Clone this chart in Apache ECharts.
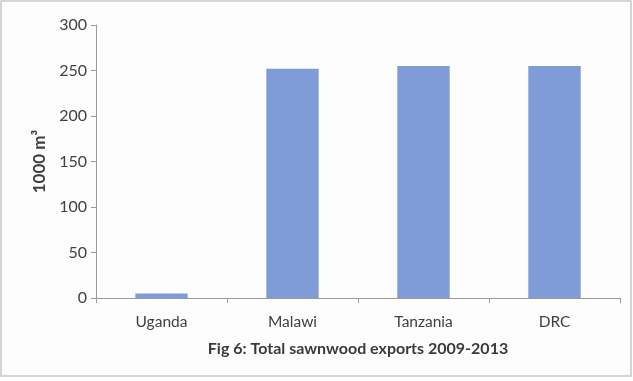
<!DOCTYPE html>
<html>
<head>
<meta charset="utf-8">
<script src="https://cdn.jsdelivr.net/npm/echarts@6/dist/echarts.min.js"></script>
<style>
html,body{margin:0;padding:0;background:#fff;}
#chart{width:633px;height:381px;}
</style>
</head>
<body>
<div id="chart"></div>
<script>
// Total sawnwood exports 2009-2013, thousand cubic metres
const countries = ['Uganda', 'Malawi', 'Tanzania', 'DRC'];
const exportsVolume = [5, 252, 255, 255];
const yTicks = [0, 50, 100, 150, 200, 250, 300];

const chart = echarts.init(document.getElementById('chart'), null, { renderer: 'canvas' });
const font = 'Lato, "Open Sans", sans-serif';
const plotLeft = 96, plotRight = 13;

chart.setOption({
  animation: false,
  backgroundColor: '#fdfdfd',
  graphic: [
    {
      type: 'rect',
      shape: { x: 1, y: 1, width: 630, height: 375 },
      style: { fill: 'none', stroke: '#c8c8c8', lineWidth: 1.5 },
      silent: true
    },
    {
      type: 'text',
      x: plotLeft + (633 - plotLeft - plotRight) / 2,
      y: 349,
      style: {
        text: 'Fig 6: Total sawnwood exports 2009-2013',
        font: 'bold 16px ' + font,
        fill: '#3a3a3a',
        align: 'center',
        verticalAlign: 'middle'
      }
    }
  ],
  grid: { left: plotLeft, right: plotRight, top: 25, bottom: 83, containLabel: false },
  xAxis: {
    type: 'category',
    data: countries,
    axisLine: { lineStyle: { color: '#9a9a9a', width: 1 } },
    axisTick: { show: true, alignWithLabel: false, length: 5, lineStyle: { color: '#9a9a9a' } },
    axisLabel: { color: '#404040', fontSize: 15.5, fontFamily: font, margin: 16 }
  },
  yAxis: {
    type: 'value',
    min: yTicks[0],
    max: yTicks[yTicks.length - 1],
    interval: 50,
    name: '1000 m³',
    nameLocation: 'middle',
    nameGap: 42,
    nameTextStyle: { color: '#404040', fontSize: 17, fontWeight: 'bold', fontFamily: font },
    axisLine: { show: true, lineStyle: { color: '#9a9a9a', width: 1 } },
    axisTick: { show: true, length: 5, lineStyle: { color: '#9a9a9a' } },
    axisLabel: { color: '#404040', fontSize: 16, fontFamily: font, margin: 9 },
    splitLine: { show: false }
  },
  series: [{
    type: 'bar',
    data: exportsVolume,
    barWidth: '40%',
    itemStyle: { color: '#809cd8' }
  }]
});
</script>
</body>
</html>
